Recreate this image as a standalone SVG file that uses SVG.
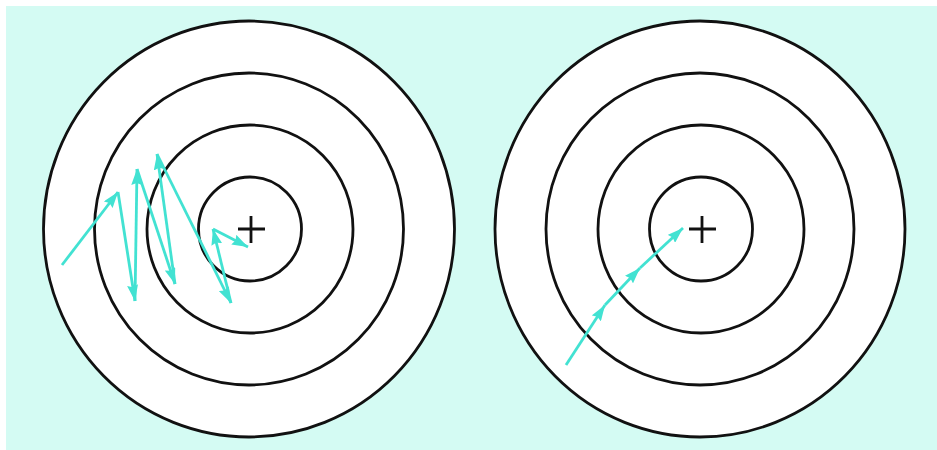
<svg xmlns="http://www.w3.org/2000/svg" width="937" height="450" viewBox="0 0 937 450">
  <style>
    .ring { fill: #ffffff; stroke: #111111; stroke-width: 2.8; }
    .cross { stroke: #111111; stroke-width: 2.8; fill: none; }
    .arr { stroke: #42E2D2; stroke-width: 2.8; fill: none; marker-end: url(#head); }
  </style>
  <defs>
    <marker id="head" viewBox="0 0 16 11" refX="16" refY="5.5" markerWidth="16" markerHeight="11" markerUnits="userSpaceOnUse" orient="auto">
      <path d="M0,0 L16,5.5 L0,11 L2,5.5 Z" fill="#42E2D2"/>
    </marker>
  </defs>
  <rect x="6" y="6" width="931" height="444" fill="#D4FBF3"/>

  <g id="target-left">
    <ellipse class="ring" cx="249" cy="229" rx="205.5" ry="208"/>
    <ellipse class="ring" cx="249" cy="229" rx="154.5" ry="156"/>
    <ellipse class="ring" cx="250" cy="229" rx="103" ry="104"/>
    <ellipse class="ring" cx="250" cy="229" rx="51.5" ry="52"/>
    <path class="cross" d="M238,229 H265 M251,216 V243"/>
  </g>

  <g id="target-right">
    <ellipse class="ring" cx="700" cy="229" rx="205" ry="208"/>
    <ellipse class="ring" cx="700" cy="229" rx="154" ry="156"/>
    <ellipse class="ring" cx="701" cy="229" rx="103" ry="104"/>
    <ellipse class="ring" cx="701" cy="229" rx="51.5" ry="52"/>
    <path class="cross" d="M689,229 H716 M702,216 V243"/>
  </g>

  <g id="connectors">
    <line class="arr" x1="62" y1="265" x2="118" y2="192"/>
    <line class="arr" x1="118" y1="192" x2="135" y2="301"/>
    <line class="arr" x1="135" y1="301" x2="137" y2="169"/>
    <line class="arr" x1="137" y1="169" x2="175" y2="284"/>
    <line class="arr" x1="175" y1="284" x2="157" y2="154"/>
    <line class="arr" x1="157" y1="154" x2="231" y2="303"/>
    <line class="arr" x1="231" y1="303" x2="213" y2="229"/>
    <line class="arr" x1="213" y1="229" x2="248" y2="247"/>

    <line class="arr" x1="566" y1="365" x2="605" y2="305"/>
    <line class="arr" x1="605" y1="305" x2="640" y2="268"/>
    <line class="arr" x1="640" y1="268" x2="683" y2="228"/>
  </g>
</svg>
